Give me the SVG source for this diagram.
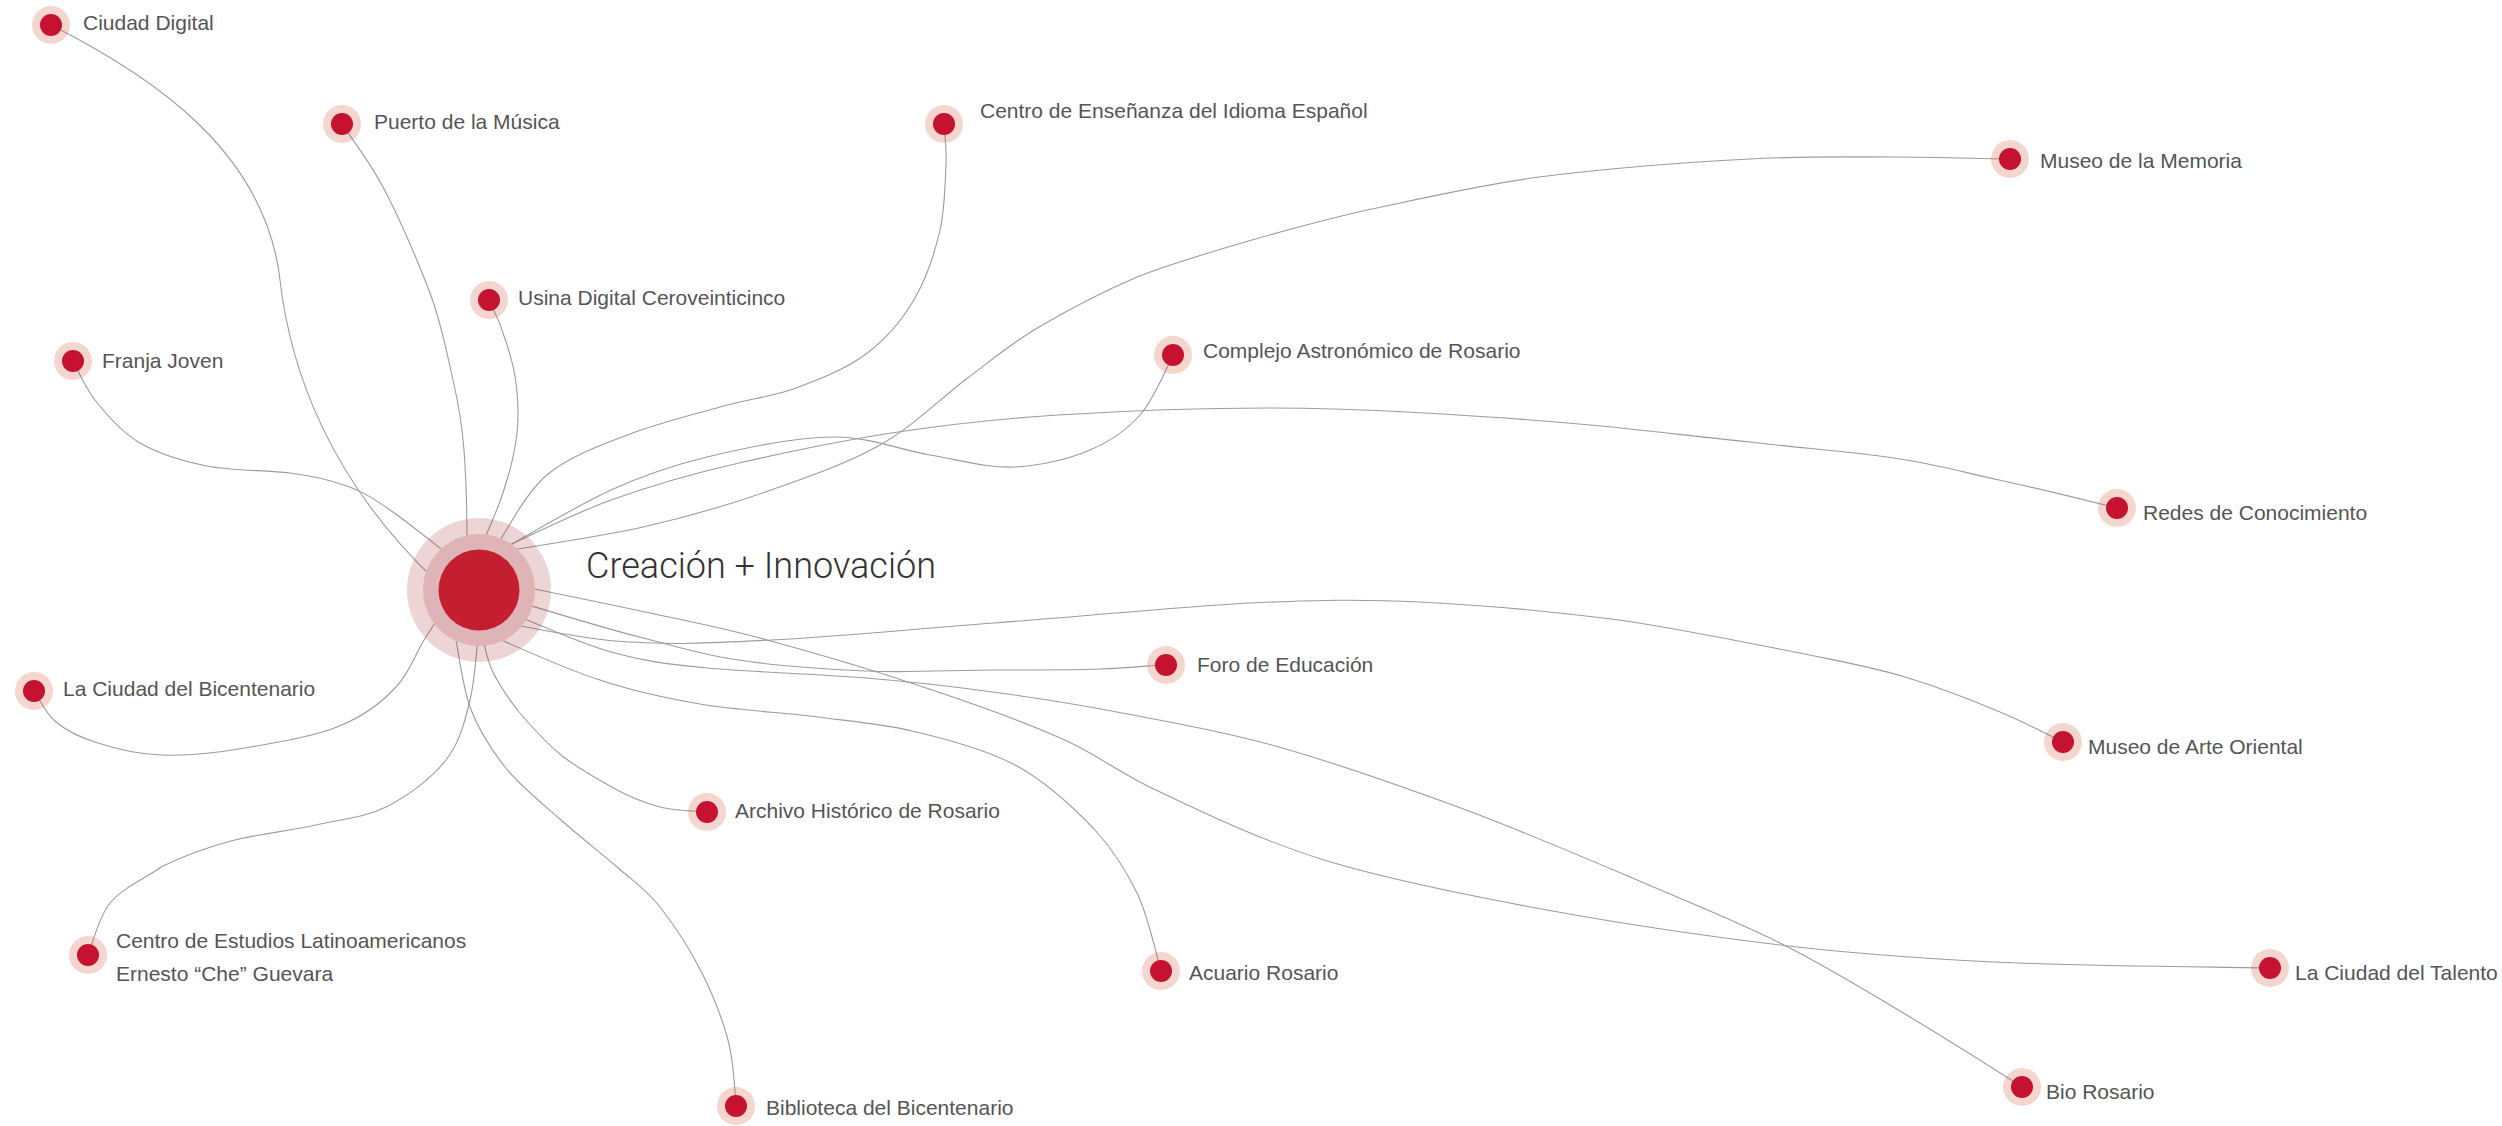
<svg xmlns="http://www.w3.org/2000/svg" width="2502" height="1126" viewBox="0 0 2502 1126">
<style>
.bg{fill:#ffffff}
.link{fill:none;stroke:#9c9c9c;stroke-width:1.1}
.halo{fill:#D75B3B;fill-opacity:0.25}
.dot{fill:#C41230}
.lbl{font-family:"Liberation Sans",Arial,sans-serif;font-size:21px;fill:#555555}
.title{font-family:Roboto,"Liberation Sans",Arial,sans-serif;font-weight:300;font-size:37px;fill:#333333}
.chalo{fill:#A52D32;fill-opacity:0.2}
.cring{fill:#DFB4B7}
.ccore{fill:#C41F30}
</style>
<rect class="bg" x="0" y="0" width="2502" height="1126"/>
<g id="connectors">
<path id="e-ciudad-digital" class="link" d="M51,25 C150,75 265,150 280,280 C290.5,371 330,480 435,580"/>
<path id="e-puerto" class="link" d="M342,124 C349,135 368,159 383,187 C398,215 418,261 430,293 C442,325 447,354 453,380 C459,406 462,423 464,450 C466,477 467,525 467,540"/>
<path id="e-usina" class="link" d="M489,300 C491,306 499,319 503,333 C508,347 514,366 516,383 C518,400 519,416 517,433 C515,450 512,465 506,483 C501,501 488,531 484,540"/>
<path id="e-franja" class="link" d="M73,361 C77,368 84,386 95,400 C106,414 121,432 140,443 C159,454 182,461 207,466 C232,471 267,470 290,473 C313,476 330,480 347,486 C364,492 374,499 390,510 C406,521 436,545 445,552"/>
<path id="e-centro-ensenanza" class="link" d="M944,124 C944,131 947,147 946,165 C945,183 945,208 940,230 C935,252 927,277 915,298 C903,319 886,339 866,354 C846,369 820,379 796,388 C772,397 748,399 720,407 C692,415 659,423 630,434 C601,445 570,456 548,474 C526,492 508,529 500,540"/>
<path id="e-museo-memoria" class="link" d="M505,551 C528,547 599,537 643,527 C687,517 732,504 771,490 C811,476 848,463 880,445 C912,427 939,400 965,380 C992,360 1010,344 1039,327 C1068,310 1102,292 1137,277 C1173,263 1214,251 1252,240 C1290,229 1319,221 1367,210 C1415,200 1475,186 1539,177 C1603,169 1691,162 1750,159 C1809,156 1851,157 1894,157 C1937,157 1991,159 2010,159"/>
<path id="e-complejo" class="link" d="M508,546 C525,537 578,505 611,490 C644,475 670,466 707,457 C744,448 797,437 834,437 C871,437 900,450 930,455 C960,460 986,468 1013,467 C1040,466 1069,459 1090,450 C1111,441 1126,431 1140,415 C1154,399 1168,365 1173,355"/>
<path id="e-redes" class="link" d="M508,546 C525,538 573,514 611,500 C650,486 691,474 739,463 C787,452 845,440 898,432 C951,424 996,419 1058,415 C1120,411 1208,408 1269,408 C1330,408 1371,410 1424,413 C1478,416 1536,420 1590,425 C1644,430 1699,437 1750,442 C1801,448 1853,452 1894,458 C1936,464 1962,472 1999,480 C2036,488 2097,503 2117,508"/>
<path id="e-foro" class="link" d="M525,604 C545,610 607,629 643,638 C679,647 702,655 739,660 C776,666 824,669 866,671 C909,673 955,670 994,670 C1033,670 1071,670 1100,669 C1129,668 1155,665 1166,665"/>
<path id="e-arte-oriental" class="link" d="M515,625 C534,628 587,640 630,642 C673,645 710,643 771,640 C832,637 914,629 994,623 C1074,617 1178,607 1249,603 C1320,600 1358,599 1420,602 C1482,605 1556,612 1619,620 C1682,629 1752,644 1800,653 C1848,663 1872,667 1905,677 C1938,687 1974,701 2000,712 C2026,723 2053,737 2063,742"/>
<path id="e-bicentenario" class="link" d="M440,615 C437,619 432,628 424,640 C416,653 408,676 393,690 C379,705 362,717 337,727 C312,737 274,743 245,748 C216,753 186,756 161,755 C137,754 116,749 98,743 C81,738 67,731 56,722 C45,713 38,696 34,691"/>
<path id="e-archivo" class="link" d="M482,635 C484,641 486,657 492,670 C498,683 508,698 519,712 C531,726 545,742 561,755 C577,768 601,781 617,790 C634,799 645,803 660,807 C675,811 699,811 707,812"/>
<path id="e-centro-estudios" class="link" d="M478,635 C477,646 475,679 470,700 C465,721 460,742 446,760 C432,778 408,796 386,807 C364,818 342,819 316,825 C290,831 257,834 231,841 C205,848 181,857 161,867 C148,877 122,888 110,903 C98,918 92,946 88,955"/>
<path id="e-acuario" class="link" d="M490,635 C508,643 565,669 600,680 C635,692 665,698 700,704 C735,710 775,712 810,716 C845,721 878,723 912,731 C947,739 987,750 1017,766 C1048,783 1075,809 1095,830 C1115,852 1127,872 1138,895 C1149,919 1157,958 1161,971"/>
<path id="e-talento" class="link" d="M515,585 C538,590 608,604 650,613 C692,622 724,628 767,640 C811,652 863,667 911,683 C960,699 1017,719 1058,737 C1100,755 1116,772 1160,792 C1204,813 1260,840 1324,860 C1389,880 1471,896 1547,910 C1623,924 1706,936 1780,945 C1855,954 1912,958 1994,962 C2076,966 2224,967 2270,968"/>
<path id="e-biblioteca" class="link" d="M455,635 C458,647 462,685 470,707 C478,729 490,748 505,767 C520,786 542,803 561,820 C580,837 601,853 617,867 C634,882 646,889 660,907 C674,925 691,951 702,973 C713,995 722,1018 728,1040 C734,1062 735,1095 736,1106"/>
<path id="e-bio" class="link" d="M515,615 C531,621 579,643 611,652 C643,661 665,664 707,668 C750,672 817,674 866,678 C915,682 957,687 1000,693 C1043,699 1076,704 1122,713 C1169,722 1223,731 1279,747 C1335,763 1398,785 1458,807 C1518,829 1583,857 1637,880 C1691,903 1736,921 1780,943 C1824,965 1860,987 1900,1011 C1940,1035 2002,1074 2022,1087"/>
</g>
<g id="node-centro">
<circle class="chalo" cx="479" cy="590" r="72"/>
<circle class="cring" cx="479" cy="590" r="56"/>
<circle class="ccore" cx="479" cy="590" r="40.5"/>
<text class="title" x="586" y="578" textLength="350" lengthAdjust="spacingAndGlyphs">Creación + Innovación</text>
</g>
<g id="node-ciudad-digital"><circle class="halo" cx="51" cy="25" r="19"/><circle class="dot" cx="51" cy="25" r="11"/><text class="lbl" x="83" y="29.5">Ciudad Digital</text></g>
<g id="node-puerto"><circle class="halo" cx="342" cy="124" r="19"/><circle class="dot" cx="342" cy="124" r="11"/><text class="lbl" x="374" y="129">Puerto de la Música</text></g>
<g id="node-usina"><circle class="halo" cx="489" cy="300" r="19"/><circle class="dot" cx="489" cy="300" r="11"/><text class="lbl" x="518" y="305">Usina Digital Ceroveinticinco</text></g>
<g id="node-franja"><circle class="halo" cx="73" cy="361" r="19"/><circle class="dot" cx="73" cy="361" r="11"/><text class="lbl" x="102" y="368">Franja Joven</text></g>
<g id="node-centro-ensenanza"><circle class="halo" cx="944" cy="124" r="19"/><circle class="dot" cx="944" cy="124" r="11"/><text class="lbl" x="980" y="118">Centro de Enseñanza del Idioma Español</text></g>
<g id="node-complejo"><circle class="halo" cx="1173" cy="355" r="19"/><circle class="dot" cx="1173" cy="355" r="11"/><text class="lbl" x="1203" y="358">Complejo Astronómico de Rosario</text></g>
<g id="node-museo-memoria"><circle class="halo" cx="2010" cy="159" r="19"/><circle class="dot" cx="2010" cy="159" r="11"/><text class="lbl" x="2040" y="167.5">Museo de la Memoria</text></g>
<g id="node-redes"><circle class="halo" cx="2117" cy="508" r="19"/><circle class="dot" cx="2117" cy="508" r="11"/><text class="lbl" x="2143" y="520">Redes de Conocimiento</text></g>
<g id="node-foro"><circle class="halo" cx="1166" cy="665" r="19"/><circle class="dot" cx="1166" cy="665" r="11"/><text class="lbl" x="1197" y="671.5">Foro de Educación</text></g>
<g id="node-arte-oriental"><circle class="halo" cx="2063" cy="742" r="19"/><circle class="dot" cx="2063" cy="742" r="11"/><text class="lbl" x="2088" y="754">Museo de Arte Oriental</text></g>
<g id="node-bicentenario"><circle class="halo" cx="34" cy="691" r="19"/><circle class="dot" cx="34" cy="691" r="11"/><text class="lbl" x="63" y="696">La Ciudad del Bicentenario</text></g>
<g id="node-archivo"><circle class="halo" cx="707" cy="812" r="19"/><circle class="dot" cx="707" cy="812" r="11"/><text class="lbl" x="735" y="818">Archivo Histórico de Rosario</text></g>
<g id="node-centro-estudios"><circle class="halo" cx="88" cy="955" r="19"/><circle class="dot" cx="88" cy="955" r="11"/><text class="lbl" x="116" y="948">Centro de Estudios Latinoamericanos</text><text class="lbl" x="116" y="980.5">Ernesto “Che” Guevara</text></g>
<g id="node-acuario"><circle class="halo" cx="1161" cy="971" r="19"/><circle class="dot" cx="1161" cy="971" r="11"/><text class="lbl" x="1189" y="980">Acuario Rosario</text></g>
<g id="node-talento"><circle class="halo" cx="2270" cy="968" r="19"/><circle class="dot" cx="2270" cy="968" r="11"/><text class="lbl" x="2295" y="980">La Ciudad del Talento</text></g>
<g id="node-biblioteca"><circle class="halo" cx="736" cy="1106" r="19"/><circle class="dot" cx="736" cy="1106" r="11"/><text class="lbl" x="766" y="1115">Biblioteca del Bicentenario</text></g>
<g id="node-bio"><circle class="halo" cx="2022" cy="1087" r="19"/><circle class="dot" cx="2022" cy="1087" r="11"/><text class="lbl" x="2046" y="1099">Bio Rosario</text></g>
</svg>
